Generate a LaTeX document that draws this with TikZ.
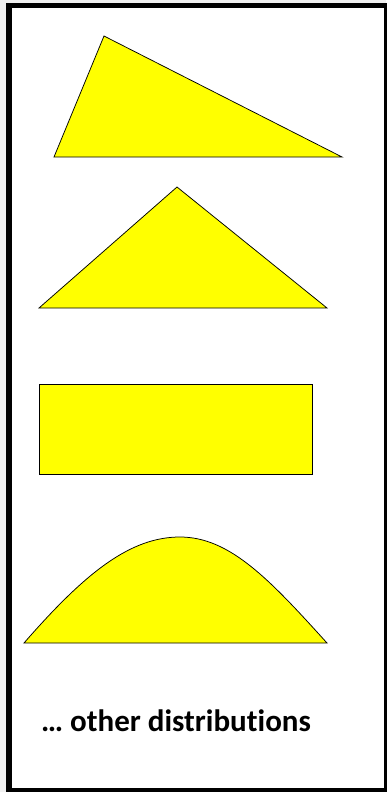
\documentclass[tikz,border=0pt]{standalone}
\usepackage{fontspec}
\setsansfont{Carlito}[Ligatures={NoCommon}]
\usepackage{xcolor}
\usepackage{tikz}
\definecolor{bggrey}{HTML}{F0F0F0}
\definecolor{distyellow}{HTML}{FFFF00}

\begin{document}
\begin{tikzpicture}[
  x=1pt, y=-1pt,
  dist/.style={draw=black, line width=0.75pt, fill=distyellow, line join=miter},
  borderline/.style={draw=black, line width=5.6pt},
  distlabel/.style={font=\sffamily\bfseries\fontsize{31}{36}\selectfont, anchor=base, inner sep=0pt},
]
% page and frame
\fill[bggrey] (0,0) rectangle (386,792);
\useasboundingbox (0,0) rectangle (386,792);
\fill[white] (8.8,5.5) rectangle (386.5,790.5);
\draw[borderline] (8.8,5.5) rectangle (386.5,790.5);
% the distributions, top to bottom
\draw[dist] (104,36) -- (54,157) -- (342,157) -- cycle;
\draw[dist] (177,187) -- (39,308) -- (327,308) -- cycle;
\draw[dist] (39,384) rectangle (312,474);
\draw[dist] (24,643) .. controls (85,573) and (130,537) .. (180,537)
  .. controls (230,537) and (270,580) .. (327,643) -- cycle;
% caption
\node[distlabel] (others) at (176,731.5) {… other distributions};
\end{tikzpicture}
\end{document}
